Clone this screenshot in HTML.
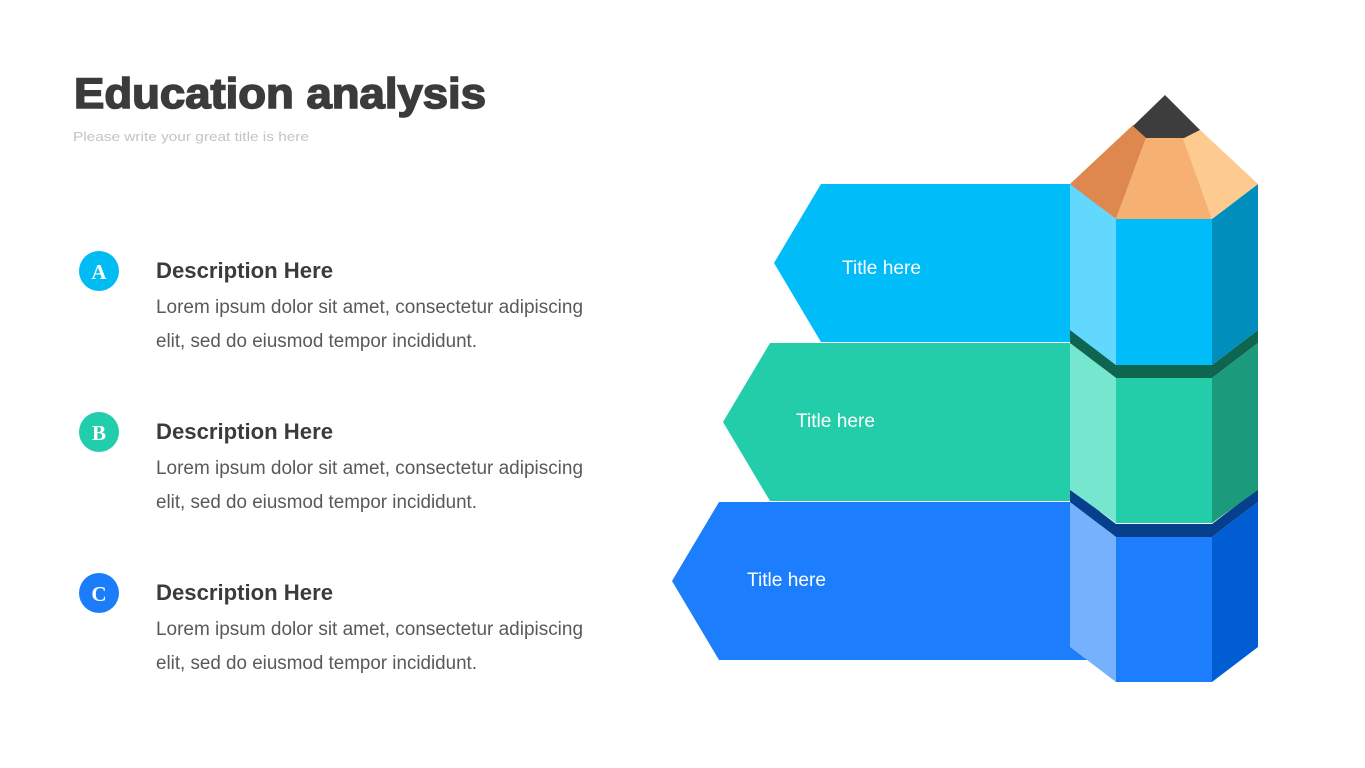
<!DOCTYPE html>
<html><head><meta charset="utf-8"><style>
html,body{margin:0;padding:0;background:#fff;}
svg{display:block;}
</style></head><body>
<svg width="1365" height="768" viewBox="0 0 1365 768" xmlns="http://www.w3.org/2000/svg">
<rect width="1365" height="768" fill="#fff"/>
<text x="74" y="108" font-family="Liberation Sans, sans-serif" font-weight="bold" font-size="43" fill="#3b3b3b" stroke="#3b3b3b" stroke-width="1.6" textLength="412" lengthAdjust="spacingAndGlyphs">Education analysis</text>
<text x="73" y="141" font-family="Liberation Sans, sans-serif" font-size="13" fill="#c4c4c4" textLength="236" lengthAdjust="spacingAndGlyphs">Please write your great title is here</text>

<g font-family="Liberation Sans, sans-serif">
<circle cx="99" cy="271" r="20" fill="#00bcf2"/>
<text x="99" y="279" text-anchor="middle" font-family="Liberation Serif, serif" font-weight="bold" font-size="21" fill="#fff">A</text>
<text x="156" y="278" font-weight="bold" font-size="22" fill="#3b3b3b" textLength="177" lengthAdjust="spacingAndGlyphs">Description Here</text>
<text x="156" y="313" font-size="19" fill="#595959" textLength="427" lengthAdjust="spacingAndGlyphs">Lorem ipsum dolor sit amet, consectetur adipiscing</text>
<text x="156" y="347" font-size="19" fill="#595959" textLength="321" lengthAdjust="spacingAndGlyphs">elit, sed do eiusmod tempor incididunt.</text>

<circle cx="99" cy="432" r="20" fill="#22cdab"/>
<text x="99" y="440" text-anchor="middle" font-family="Liberation Serif, serif" font-weight="bold" font-size="21" fill="#fff">B</text>
<text x="156" y="439" font-weight="bold" font-size="22" fill="#3b3b3b" textLength="177" lengthAdjust="spacingAndGlyphs">Description Here</text>
<text x="156" y="474" font-size="19" fill="#595959" textLength="427" lengthAdjust="spacingAndGlyphs">Lorem ipsum dolor sit amet, consectetur adipiscing</text>
<text x="156" y="508" font-size="19" fill="#595959" textLength="321" lengthAdjust="spacingAndGlyphs">elit, sed do eiusmod tempor incididunt.</text>

<circle cx="99" cy="593" r="20" fill="#1c7dfb"/>
<text x="99" y="601" text-anchor="middle" font-family="Liberation Serif, serif" font-weight="bold" font-size="21" fill="#fff">C</text>
<text x="156" y="600" font-weight="bold" font-size="22" fill="#3b3b3b" textLength="177" lengthAdjust="spacingAndGlyphs">Description Here</text>
<text x="156" y="635" font-size="19" fill="#595959" textLength="427" lengthAdjust="spacingAndGlyphs">Lorem ipsum dolor sit amet, consectetur adipiscing</text>
<text x="156" y="669" font-size="19" fill="#595959" textLength="321" lengthAdjust="spacingAndGlyphs">elit, sed do eiusmod tempor incididunt.</text>
</g>

<!-- arrows -->
<polygon points="821,184 1100,184 1100,342 821,342 774,263" fill="#00bcf9"/>
<polygon points="770,343 1100,343 1100,501 770,501 723,422" fill="#23cdaa"/>
<polygon points="719,502 1100,502 1100,660 719,660 672,581" fill="#1c7dfd"/>
<g font-family="Liberation Sans, sans-serif" font-size="19" fill="#fff">
<text x="842" y="274" textLength="79" lengthAdjust="spacingAndGlyphs">Title here</text>
<text x="796" y="427" textLength="79" lengthAdjust="spacingAndGlyphs">Title here</text>
<text x="747" y="586" textLength="79" lengthAdjust="spacingAndGlyphs">Title here</text>
</g>

<!-- blue (bottom) section -->
<polygon points="1070,502 1116,537 1212,537 1258,502 1258,489 1212,524 1116,524 1070,489" fill="#063f8c"/>
<polygon points="1070,502 1116,537 1116,682 1070,647" fill="#75b1fc"/>
<polygon points="1116,537 1212,537 1212,682 1116,682" fill="#1c7dfd"/>
<polygon points="1212,537 1258,502 1258,647 1212,682" fill="#005dd4"/>

<!-- green section -->
<polygon points="1070,343 1116,378 1212,378 1258,343 1258,330 1212,365 1116,365 1070,330" fill="#0f6650"/>
<polygon points="1070,343 1116,378 1116,523 1070,490" fill="#76e6cf"/>
<polygon points="1116,378 1212,378 1212,523 1116,523" fill="#23cdaa"/>
<polygon points="1212,378 1258,343 1258,490 1212,523" fill="#1b9a7c"/>

<!-- light blue top section -->
<polygon points="1070,184 1116,219 1116,365 1070,330" fill="#62d8fe"/>
<polygon points="1116,219 1212,219 1212,365 1116,365" fill="#00bcf9"/>
<polygon points="1212,219 1258,184 1258,330 1212,365" fill="#008fbc"/>

<!-- cone -->
<polygon points="1133,125 1146,138 1116,219 1070,184" fill="#de874f"/>
<polygon points="1146,138 1183,138 1212,219 1116,219" fill="#f6b072"/>
<polygon points="1183,138 1199,129 1258,184 1212,219" fill="#fdca8f"/>
<polygon points="1165,95 1200,130 1184,138 1146,138 1133,126" fill="#3d3d3d"/>
</svg>
</body></html>
